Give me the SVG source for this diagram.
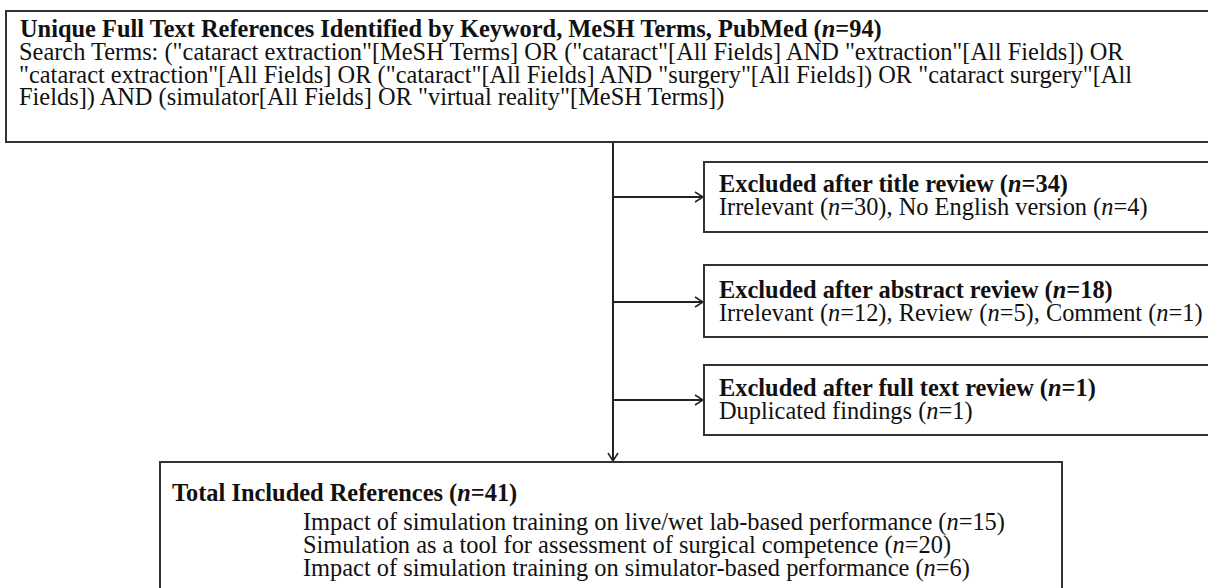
<svg xmlns="http://www.w3.org/2000/svg" width="1208" height="588" viewBox="0 0 1208 588">
<style>
.box{fill:#fff;stroke:#333;stroke-width:2}
.t{font-family:"Liberation Serif","Times New Roman",serif;font-size:24.4px;fill:#111}
.b{font-weight:bold}
.i{font-style:italic}
.con{fill:none;stroke:#222;stroke-width:2}
</style>
<defs>
<marker id="arr" viewBox="0 0 10 12" refX="9" refY="6" markerWidth="10" markerHeight="12" markerUnits="userSpaceOnUse" orient="auto">
<path d="M1,1 L9,6 L1,11" fill="none" stroke="#222" stroke-width="1.5"/>
</marker>
</defs>
<rect width="1208" height="588" fill="#fff"/>
<g id="connectors">
<line class="con" x1="613" y1="142" x2="613" y2="461" marker-end="url(#arr)"/>
<line class="con" x1="613" y1="197" x2="703" y2="197" marker-end="url(#arr)"/>
<line class="con" x1="613" y1="302" x2="703" y2="302" marker-end="url(#arr)"/>
<line class="con" x1="613" y1="400" x2="703" y2="400" marker-end="url(#arr)"/>
</g>
<g id="search">
<rect class="box" x="6" y="11" width="1210" height="131"/>
<text class="t b" x="20" y="37">Unique Full Text References Identified by Keyword, MeSH Terms, PubMed (<tspan class="i">n</tspan>=94)</text>
<text class="t" x="19" y="60">Search Terms: ("cataract extraction"[MeSH Terms] OR ("cataract"[All Fields] AND "extraction"[All Fields]) OR</text>
<text class="t" x="19" y="83">"cataract extraction"[All Fields] OR ("cataract"[All Fields] AND "surgery"[All Fields]) OR "cataract surgery"[All</text>
<text class="t" x="19" y="105">Fields]) AND (simulator[All Fields] OR "virtual reality"[MeSH Terms])</text>
</g>
<g id="excl-title">
<rect class="box" x="704" y="162" width="510" height="70"/>
<text class="t b" x="719" y="192">Excluded after title review (<tspan class="i">n</tspan>=34)</text>
<text class="t" x="719" y="215">Irrelevant (<tspan class="i">n</tspan>=30), No English version (<tspan class="i">n</tspan>=4)</text>
</g>
<g id="excl-abstract">
<rect class="box" x="704" y="265" width="510" height="72"/>
<text class="t b" x="719" y="298">Excluded after abstract review (<tspan class="i">n</tspan>=18)</text>
<text class="t" x="719" y="321">Irrelevant (<tspan class="i">n</tspan>=12), Review (<tspan class="i">n</tspan>=5), Comment (<tspan class="i">n</tspan>=1)</text>
</g>
<g id="excl-fulltext">
<rect class="box" x="704" y="365" width="510" height="70"/>
<text class="t b" x="719" y="396">Excluded after full text review (<tspan class="i">n</tspan>=1)</text>
<text class="t" x="719" y="419">Duplicated findings (<tspan class="i">n</tspan>=1)</text>
</g>
<g id="included">
<rect class="box" x="160" y="462" width="902" height="140"/>
<text class="t b" x="172" y="501">Total Included References (<tspan class="i">n</tspan>=41)</text>
<text class="t" x="303" y="530">Impact of simulation training on live/wet lab-based performance (<tspan class="i">n</tspan>=15)</text>
<text class="t" x="303" y="553">Simulation as a tool for assessment of surgical competence (<tspan class="i">n</tspan>=20)</text>
<text class="t" x="303" y="576">Impact of simulation training on simulator-based performance (<tspan class="i">n</tspan>=6)</text>
</g>
</svg>
